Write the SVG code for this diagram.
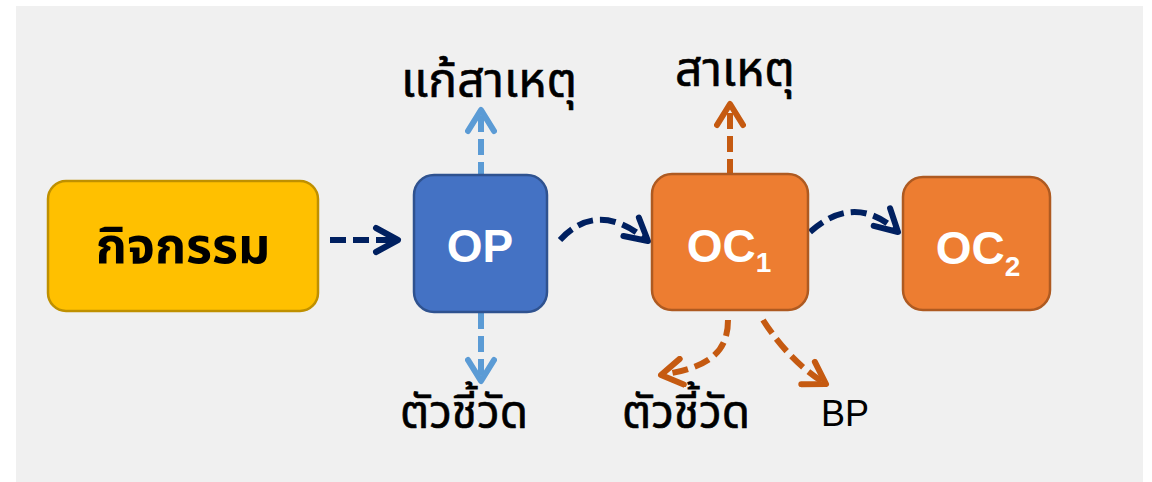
<svg xmlns="http://www.w3.org/2000/svg" width="1152" height="482" viewBox="0 0 1152 482">
<style>
.thai{font-family:Tahoma,"Leelawadee UI","Noto Sans Thai","Noto Sans Thai UI","Loma","Garuda",sans-serif;fill:#000}
.lbl{font-family:"Liberation Sans",Arial,sans-serif;font-weight:bold;fill:#fff}
.conn{fill:none;stroke-width:6;stroke-dasharray:16 7}
</style>
<defs>
<marker id="mNavy" markerUnits="userSpaceOnUse" viewBox="-28 -16 32 32" markerWidth="32" markerHeight="32" refX="0" refY="0" orient="auto"><path d="M-22,-12 L0,0 L-22,12" fill="none" stroke="#002060" stroke-width="6" stroke-linecap="round" stroke-linejoin="round"/></marker>
<marker id="mBlue" markerUnits="userSpaceOnUse" viewBox="-28 -16 32 32" markerWidth="32" markerHeight="32" refX="0" refY="0" orient="auto"><path d="M-21,-13 L0,0 L-21,13" fill="none" stroke="#5B9BD5" stroke-width="6" stroke-linecap="round" stroke-linejoin="round"/></marker>
<marker id="mOrange" markerUnits="userSpaceOnUse" viewBox="-28 -16 32 32" markerWidth="32" markerHeight="32" refX="0" refY="0" orient="auto"><path d="M-21,-13 L0,0 L-21,13" fill="none" stroke="#C55A11" stroke-width="6" stroke-linecap="round" stroke-linejoin="round"/></marker>
</defs>
<rect x="16" y="6" width="1127" height="476" fill="#F0F0F0"/>
<g id="connectors">
<path class="conn" d="M330,240 L398,240" stroke="#002060" marker-end="url(#mNavy)"/>
<path class="conn" d="M560,240 Q598,199 648,241" stroke="#002060" marker-end="url(#mNavy)"/>
<path class="conn" d="M810,232 Q855,192 898,232" stroke="#002060" marker-end="url(#mNavy)"/>
<path class="conn" d="M481,178 L481,110" stroke="#5B9BD5" marker-end="url(#mBlue)"/>
<path class="conn" d="M481,313 L481,381" stroke="#5B9BD5" marker-end="url(#mBlue)"/>
<path class="conn" d="M730,175 L730,104" stroke="#C55A11" marker-end="url(#mOrange)"/>
<path class="conn" d="M728,320 C728,355 705,368 661,375" stroke="#C55A11" marker-end="url(#mOrange)"/>
<path class="conn" d="M763,320 Q790,362 826,384" stroke="#C55A11" marker-end="url(#mOrange)"/>
</g>
<g id="activity">
<rect x="48" y="181" width="270" height="130" rx="18" fill="#FFC000" stroke="#BF9000" stroke-width="2.5"/>
<text class="thai" x="183" y="263" text-anchor="middle" font-size="50" font-weight="bold">กิจกรรม</text>
</g>
<g id="op">
<rect x="414" y="175" width="133" height="137" rx="20" fill="#4472C4" stroke="#2F528F" stroke-width="2.5"/>
<text class="lbl" x="480" y="262" text-anchor="middle" font-size="46">OP</text>
</g>
<g id="oc1">
<rect x="652" y="174" width="156" height="136" rx="20" fill="#ED7D31" stroke="#AE5A21" stroke-width="2.5"/>
<text class="lbl" x="729" y="262" text-anchor="middle" font-size="46">OC<tspan font-size="28" dy="10">1</tspan></text>
</g>
<g id="oc2">
<rect x="903" y="177" width="147" height="133" rx="20" fill="#ED7D31" stroke="#AE5A21" stroke-width="2.5"/>
<text class="lbl" x="978" y="264" text-anchor="middle" font-size="46">OC<tspan font-size="28" dy="12">2</tspan></text>
</g>
<g id="labels">
<text class="thai" x="489" y="97" text-anchor="middle" font-size="48" stroke="#000" stroke-width="0.6">แก้สาเหตุ</text>
<text class="thai" x="735" y="86" text-anchor="middle" font-size="48" stroke="#000" stroke-width="0.6">สาเหตุ</text>
<text class="thai" x="464" y="428" text-anchor="middle" font-size="46" stroke="#000" stroke-width="0.6">ตัวชี้วัด</text>
<text class="thai" x="686" y="428" text-anchor="middle" font-size="46" stroke="#000" stroke-width="0.6">ตัวชี้วัด</text>
<text x="845" y="426" text-anchor="middle" font-size="36" font-family="'Liberation Sans',Arial,sans-serif" fill="#000">BP</text>
</g>
</svg>
